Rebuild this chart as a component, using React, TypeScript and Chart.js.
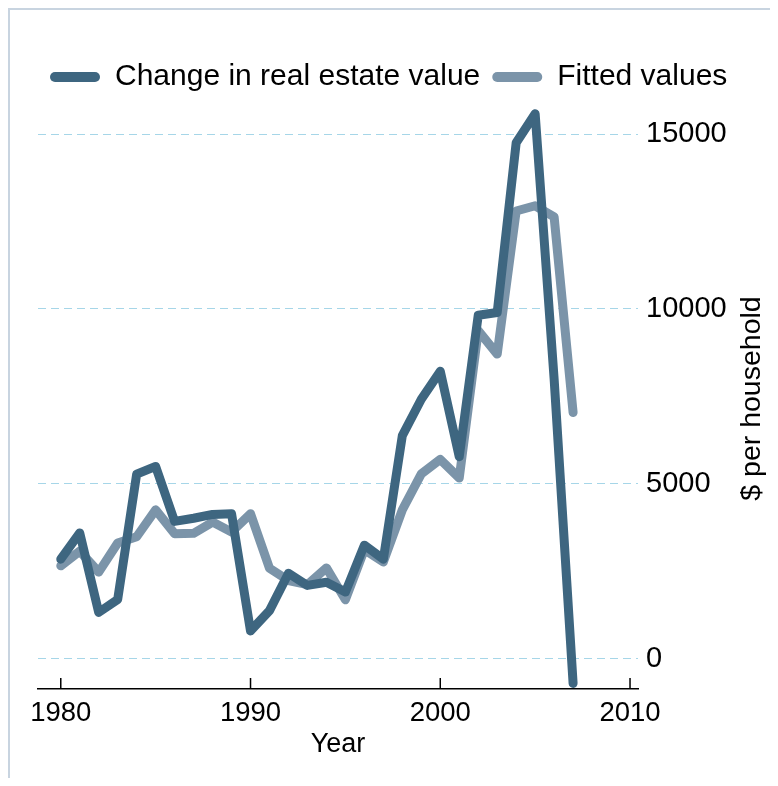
import React, { useEffect, useRef } from "react";
import { Chart, registerables } from "chart.js";

Chart.register(...registerables);

const years = [
  1980, 1981, 1982, 1983, 1984, 1985, 1986, 1987, 1988, 1989,
  1990, 1991, 1992, 1993, 1994, 1995, 1996, 1997, 1998, 1999,
  2000, 2001, 2002, 2003, 2004, 2005, 2006, 2007,
];

const changeValues = [
  2850, 3600, 1330, 1700, 5280, 5500, 3930, 4020, 4130, 4150,
  800, 1380, 2450, 2100, 2190, 1910, 3250, 2850, 6380, 7420,
  8220, 5780, 9820, 9900, 14750, 15580, 8000, -700,
];

const fittedValues = [
  2660, 3080, 2480, 3310, 3490, 4260, 3580, 3590, 3910, 3630,
  4150, 2590, 2240, 2120, 2600, 1690, 3120, 2770, 4260, 5290,
  5700, 5170, 9380, 8710, 12800, 12950, 12630, 7040,
];

const xTicks = [1980, 1990, 2000, 2010];
const yTicks = [0, 5000, 10000, 15000];

const SERIES_LABELS = ["Change in real estate value", "Fitted values"];
const X_TITLE = "Year";
const Y_TITLE = "$ per household";

const DARK = "#3e6680";
const LIGHT = "#7b94a9";
const GRID = "#a6d6e8";
const FRAME = "#c8d4e0";
const FONT = "'Liberation Sans', Arial, Helvetica, sans-serif";

const decorPlugin = {
  id: "decor",
  beforeDatasetsDraw(chart: any) {
    const { ctx, chartArea, scales } = chart;
    const x = scales.x;
    ctx.save();
    ctx.strokeStyle = "#000";
    ctx.lineWidth = 1.5;
    xTicks.forEach((v) => {
      const px = x.getPixelForValue(v);
      ctx.beginPath();
      ctx.moveTo(px, chartArea.bottom);
      ctx.lineTo(px, chartArea.bottom - 11);
      ctx.stroke();
    });
    ctx.restore();
  },
  afterDraw(chart: any) {
    const { ctx, chartArea, scales } = chart;
    const y = scales.y;
    ctx.save();
    ctx.translate(y.left + 114, (chartArea.top + chartArea.bottom) / 2 + 3);
    ctx.rotate(-Math.PI / 2);
    ctx.font = `28.5px ${FONT}`;
    ctx.fillStyle = "#000";
    ctx.textAlign = "center";
    ctx.textBaseline = "middle";
    ctx.fillText(Y_TITLE, 0, 0);
    ctx.restore();
  },
};

export default function App() {
  const canvasRef = useRef<HTMLCanvasElement | null>(null);

  useEffect(() => {
    if (!canvasRef.current) return;
    const chart = new Chart(canvasRef.current, {
      type: "line",
      data: {
        datasets: [
          {
            label: SERIES_LABELS[0],
            data: years.map((yr, i) => ({ x: yr, y: changeValues[i] })),
            borderColor: DARK,
            backgroundColor: DARK,
            borderWidth: 9,
            pointRadius: 0,
            borderCapStyle: "round",
            borderJoinStyle: "round",
            tension: 0,
            clip: false,
          },
          {
            label: SERIES_LABELS[1],
            data: years.map((yr, i) => ({ x: yr, y: fittedValues[i] })),
            borderColor: LIGHT,
            backgroundColor: LIGHT,
            borderWidth: 9,
            pointRadius: 0,
            borderCapStyle: "round",
            borderJoinStyle: "round",
            tension: 0,
            clip: false,
          },
        ],
      },
      options: {
        animation: false,
        responsive: false,
        events: [],
        layout: { padding: { left: 28, top: 40, right: 0, bottom: 0 } },
        plugins: {
          tooltip: { enabled: false },
          legend: {
            position: "top",
            align: "start",
            labels: {
              boxWidth: 50,
              boxHeight: 10,
              useBorderRadius: true,
              borderRadius: 5,
              color: "#000",
              padding: 12,
              font: { family: FONT, size: 30 },
              generateLabels: (c: any) =>
                c.data.datasets.map((d: any, i: number) => ({
                  text: d.label,
                  fillStyle: d.borderColor,
                  strokeStyle: d.borderColor,
                  lineWidth: 0,
                  hidden: false,
                  datasetIndex: i,
                  borderRadius: 5,
                  fontColor: "#000",
                })),
            },
          },
        },
        scales: {
          x: {
            type: "linear",
            min: 1978.8,
            max: 2010.42,
            afterBuildTicks: (s: any) => {
              s.ticks = xTicks.map((v) => ({ value: v }));
            },
            afterFit: (s: any) => {
              s.height = 97;
            },
            grid: { display: false, drawTicks: false },
            border: { display: true, color: "#000", width: 1.5 },
            ticks: {
              color: "#000",
              font: { family: FONT, size: 27.5 },
              padding: 8,
              maxRotation: 0,
              autoSkip: false,
              callback: (v: any) => String(v),
            },
            title: {
              display: true,
              text: X_TITLE,
              color: "#000",
              font: { family: FONT, size: 27 },
              padding: { top: 0, bottom: 25 },
            },
          },
          y: {
            position: "right",
            min: -860,
            max: 15915,
            afterBuildTicks: (s: any) => {
              s.ticks = yTicks.map((v) => ({ value: v }));
            },
            afterFit: (s: any) => {
              s.width = 140;
            },
            grid: { color: GRID, lineWidth: 1, drawTicks: false },
            border: { display: false, dash: [8, 5] },
            ticks: {
              color: "#000",
              font: { family: FONT, size: 29 },
              padding: 8,
              callback: (v: any) => String(v),
            },
          },
        },
      },
      plugins: [decorPlugin],
    } as any);
    return () => chart.destroy();
  }, []);

  return (
    <div
      style={{
        width: 770,
        height: 790,
        boxSizing: "border-box",
        borderTop: `2px solid ${FRAME}`,
        borderLeft: `2px solid ${FRAME}`,
        marginBottom: -20,
        background: "#fff",
      }}
    >
      <canvas
        ref={canvasRef}
        width={768}
        height={776}
        style={{ display: "block", width: 768, height: 776 }}
      />
    </div>
  );
}
